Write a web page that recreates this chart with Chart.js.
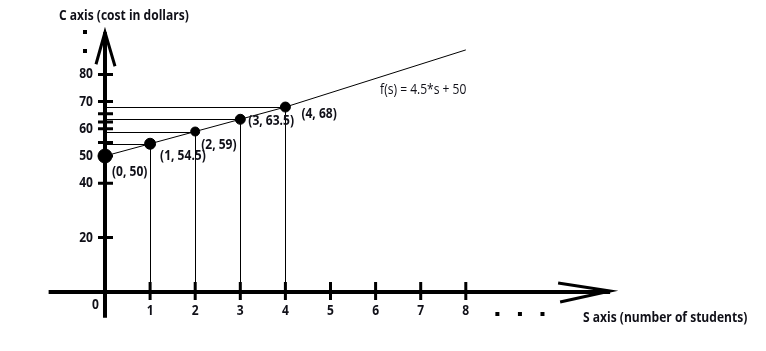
<!DOCTYPE html>
<html>
<head>
<meta charset="utf-8">
<script src="https://cdn.jsdelivr.net/npm/chart.js@4.4.0/dist/chart.umd.min.js"></script>
<style>
html, body { margin: 0; padding: 0; background: #fff; }
#wrap { width: 766px; height: 351px; position: relative; }
</style>
</head>
<body>
<div id="wrap"><canvas id="chart"></canvas></div>
<script>
// values
const students = [0, 1, 2, 3, 4];
const costs = [50, 54.5, 59, 63.5, 68];
const lineEndS = 8;
const lineEndC = 89;
const xTickValues = [1, 2, 3, 4, 5, 6, 7, 8];
const yTickValues = [20, 40, 50, 60, 70, 80];
const yMinorTicks = [55, 62.5, 65.5];
const xAxisTitle = 'S axis (number of students)';
const yAxisTitle = 'C axis (cost in dollars)';
const formulaText = 'f(s) = 4.5*s + 50';
const pointLabels = students.map((s, i) => '(' + s + ', ' + costs[i] + ')');

const INK = '#101018';
const BOLD = 'bold 14px "Open Sans"';
const SQUASH = 0.86;

// offsets of the point labels from their dots (left edge, middle)
const labelOffsets = [[7, 16], [10, 12], [6, 13], [8, 2], [16, 7]];

// text squeezed a little so it looks like the narrow sketch font
function narrowText(ctx, str, x, y, align) {
    const w = ctx.measureText(str).width * SQUASH;
    let left = x;
    if (align === 'right') left = x - w;
    if (align === 'center') left = x - w / 2;
    ctx.save();
    ctx.textAlign = 'left';
    ctx.translate(left, y);
    ctx.scale(SQUASH, 1);
    ctx.fillText(str, 0, 0);
    ctx.restore();
}

// lines, ticks, arrows and texts drawn like the hand sketch
const sketchAxes = {
    id: 'sketchAxes',
    beforeDatasetsDraw(chart) {
        const ctx = chart.ctx;
        const xs = chart.scales.x, ys = chart.scales.y;
        const x0 = xs.getPixelForValue(0);
        const y0 = ys.getPixelForValue(0);
        ctx.save();
        ctx.strokeStyle = '#000';
        ctx.lineCap = 'butt';

        // drop lines from each point to both axes
        ctx.lineWidth = 1;
        students.forEach((s, i) => {
            const px = Math.round(xs.getPixelForValue(s)) + 0.5;
            const py = Math.round(ys.getPixelForValue(costs[i])) + 0.5;
            ctx.beginPath();
            ctx.moveTo(x0, py);
            ctx.lineTo(px, py);
            if (s > 0) {
                ctx.moveTo(px, py);
                ctx.lineTo(px, y0);
            }
            ctx.stroke();
        });

        // main axes
        ctx.lineWidth = 4;
        ctx.beginPath();
        ctx.moveTo(x0, ys.getPixelForValue(95.5));
        ctx.lineTo(x0, ys.getPixelForValue(-9.5));
        ctx.moveTo(xs.getPixelForValue(-1.25), y0);
        ctx.lineTo(xs.getPixelForValue(11.2), y0);
        ctx.stroke();

        // arrow heads
        ctx.lineWidth = 3;
        const yTip = ys.getPixelForValue(95.5);
        ctx.beginPath();
        ctx.moveTo(x0 - 9, yTip + 32);
        ctx.lineTo(x0, yTip);
        ctx.lineTo(x0 + 10, yTip + 34);
        const xTip = xs.getPixelForValue(11.2);
        ctx.moveTo(xTip - 52, y0 - 9);
        ctx.lineTo(xTip, y0 - 1);
        ctx.lineTo(xTip - 50, y0 + 10);
        ctx.stroke();

        // ticks
        ctx.lineWidth = 3;
        ctx.beginPath();
        yTickValues.concat(yMinorTicks).forEach(v => {
            const py = ys.getPixelForValue(v);
            ctx.moveTo(x0 - 7, py);
            ctx.lineTo(x0 + 8, py);
        });
        xTickValues.forEach(v => {
            const px = xs.getPixelForValue(v);
            ctx.moveTo(px, y0 - 10);
            ctx.lineTo(px, y0 + 8);
        });
        ctx.stroke();
        ctx.restore();
    },
    afterDatasetsDraw(chart) {
        const ctx = chart.ctx;
        const xs = chart.scales.x, ys = chart.scales.y;
        const x0 = xs.getPixelForValue(0);
        const y0 = ys.getPixelForValue(0);
        ctx.save();
        ctx.fillStyle = INK;
        ctx.font = BOLD;
        ctx.textBaseline = 'middle';

        // tick labels
        yTickValues.forEach(v => narrowText(ctx, String(v), x0 - 12, ys.getPixelForValue(v), 'right'));
        narrowText(ctx, '0', x0 - 6, y0 + 13, 'right');
        xTickValues.forEach(v => narrowText(ctx, String(v), xs.getPixelForValue(v), y0 + 19, 'center'));

        // point labels
        students.forEach((s, i) => {
            const off = labelOffsets[i];
            narrowText(ctx, pointLabels[i], xs.getPixelForValue(s) + off[0], ys.getPixelForValue(costs[i]) + off[1], 'left');
        });

        // axis titles
        narrowText(ctx, yAxisTitle, x0 - 46, 16, 'left');
        narrowText(ctx, xAxisTitle, xs.getPixelForValue(10.6), y0 + 26, 'left');

        // formula
        ctx.font = '14px "Open Sans"';
        narrowText(ctx, formulaText, xs.getPixelForValue(6.1), ys.getPixelForValue(74.3), 'left');

        // the little dots meaning "and so on"
        ctx.fillStyle = '#000';
        ctx.fillRect(x0 - 22, 30, 4, 4);
        ctx.fillRect(x0 - 22, 49, 4, 4);
        [8.7, 9.2, 9.7].forEach(v => ctx.fillRect(xs.getPixelForValue(v) - 2, y0 + 20, 4, 4));
        ctx.restore();
    }
};

new Chart(document.getElementById('chart'), {
    type: 'scatter',
    data: {
        datasets: [{
            label: 'points',
            data: students.map((s, i) => ({ x: s, y: costs[i] })),
            backgroundColor: '#000',
            borderColor: '#000',
            pointRadius: [7, 5.5, 4.5, 5, 5],
            showLine: false
        }, {
            label: 'f(s)',
            data: students.map((s, i) => ({ x: s, y: costs[i] })).concat([{ x: lineEndS, y: lineEndC }]),
            borderColor: '#000',
            borderWidth: 1,
            pointRadius: 0,
            showLine: true,
            fill: false
        }]
    },
    plugins: [sketchAxes],
    options: {
        responsive: true,
        maintainAspectRatio: false,
        animation: false,
        layout: { padding: 0, autoPadding: false },
        plugins: {
            legend: { display: false },
            tooltip: { enabled: false }
        },
        scales: {
            x: { type: 'linear', display: false, min: -2.328, max: 14.656 },
            y: { type: 'linear', display: false, min: -21.69, max: 107.35 }
        }
    }
});
</script>
</body>
</html>
